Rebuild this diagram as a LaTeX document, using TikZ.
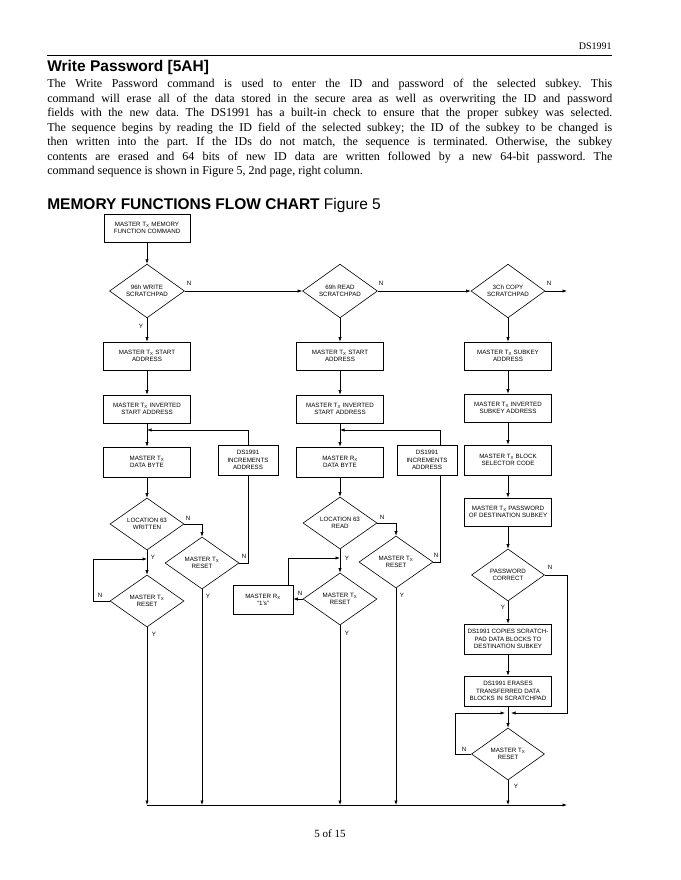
\documentclass[tikz,border=0pt]{standalone}
\usepackage{fontspec}
\setmainfont{Liberation Serif}
\newfontfamily\arial{Liberation Sans}
\usetikzlibrary{shapes.geometric,arrows.meta}
\frenchspacing
\newcommand\fcf{\arial\fontsize{6.2}{7.4}\selectfont}
\newcommand\tx{T\textsubscript{X}}
\newcommand\rx{R\textsubscript{X}}
\begin{document}
\begin{tikzpicture}[x=1pt,y=-1pt,line width=0.6pt,
  box/.style={draw, inner sep=0pt, minimum width=87pt, minimum height=28pt, align=center, font=\fcf},
  sbox/.style={box, minimum width=60pt, minimum height=30pt},
  dia/.style={draw, diamond, inner sep=0pt, minimum width=75pt, minimum height=52pt, align=center, font=\fcf},
  arr/.style={-{Latex[length=4.5pt,width=3.2pt]}},
  yn/.style={font=\arial\fontsize{6.2}{7}\selectfont, inner sep=0pt}]
\fill[white] (0,0) rectangle (680,880);
\useasboundingbox (0,0) rectangle (680,880);

% ---- page text ----
\node[anchor=base east, font=\fontsize{10}{12}\selectfont, inner sep=0pt] (hdr) at (612,50) {DS1991};
\coordinate (rl) at (47,55); \coordinate (rr) at (612,55);
\draw[line width=0.9pt] (rl) -- (rr);
\node[anchor=base west, font=\arial\bfseries\fontsize{15.5}{18}\selectfont, inner sep=0pt] (ttl) at (47,72) {Write Password [5AH]};
\node[anchor=north west, inner sep=0pt, text width=565pt, align=justify, font=\frenchspacing\fontsize{12}{14.5}\selectfont] (par) at (47,79)
{The Write Password command is used to enter the ID and password of the selected subkey. This\linebreak
command will erase all of the data stored in the secure area as well as overwriting the ID and password\linebreak
fields with the new data. The DS1991 has a built-in check to ensure that the proper subkey was selected.\linebreak
The sequence begins by reading the ID field of the selected subkey; the ID of the subkey to be changed is\linebreak
then written into the part. If the IDs do not match, the sequence is terminated. Otherwise, the subkey\linebreak
contents are erased and 64 bits of new ID data are written followed by a new 64-bit password. The\linebreak
command sequence is shown in Figure 5, 2nd page, right column.};
\node[anchor=base west, inner sep=0pt, font=\arial\fontsize{15.5}{18}\selectfont] (fig) at (47,209) {\bfseries MEMORY FUNCTIONS FLOW CHART \mdseries Figure 5};
\node[anchor=base, font=\fontsize{11}{13}\selectfont, inner sep=0pt] (pg) at (330,837) {5 of 15};

% ---- top row ----
\node[box, minimum width=86pt] (n0) at (147,228) {MASTER \tx{} MEMORY\\FUNCTION COMMAND};
\node[dia] (d1) at (147,291) {96h WRITE\\SCRATCHPAD};
\node[dia] (d2) at (340,291) {69h READ\\SCRATCHPAD};
\node[dia, minimum width=74pt] (d3) at (508,291) {3Ch COPY\\SCRATCHPAD};
\coordinate (e3) at (567,291);
\draw[arr] (n0) -- (d1);
\draw[arr] (d1.east) -- (d2.west);
\draw[arr] (d2.east) -- (d3.west);
\draw[arr] (d3.east) -- (e3);
\node[yn] (nd1) at (189,283) {N};
\node[yn] (nd2) at (381,283) {N};
\node[yn] (nd3) at (549,283) {N};
\node[yn] (yd1) at (141,326) {Y};

% ---- bottom collector ----
\coordinate (b1) at (147,805);
\coordinate (b2) at (202,805);
\coordinate (b3) at (340,805);
\coordinate (b4) at (396,805);
\coordinate (b5) at (508,805);
\coordinate (bR) at (567,805);
\draw[arr] (b1) -- (bR);

% ---- column 1 : write scratchpad ----
\node[box] (a1) at (147,356) {MASTER \tx{} START\\ADDRESS};
\node[box] (a2) at (147,409) {MASTER \tx{} INVERTED\\START ADDRESS};
\node[box, minimum height=30pt] (a3) at (147,462) {MASTER \tx\\DATA BYTE};
\node[sbox] (i1) at (248,460) {DS1991\\INCREMENTS\\ADDRESS};
\coordinate (j1) at (147,430);
\draw[arr] (d1) -- (a1);
\draw[arr] (a1) -- (a2);
\draw[arr] (a2) -- (a3);
\draw[arr] (i1.north) |- (j1);
\node[dia, minimum width=74pt] (l1) at (147,524) {LOCATION 63\\WRITTEN};
\node[dia, minimum width=74pt] (r1) at (202,563) {MASTER \tx\\RESET};
\node[dia, minimum width=74pt] (r0) at (147,601) {MASTER \tx\\RESET};
\draw[arr] (a3) -- (l1);
\draw[arr] (l1.east) -| (r1.north);
\draw (r1.east) -| (i1.south);
\draw[arr] (l1) -- (r0);
\coordinate (k1) at (93,559);
\coordinate (k1b) at (147,559);
\draw[arr] (r0.west) -| (k1) -- (k1b);
\draw[arr] (r0) -- (b1);
\draw[arr] (r1) -- (b2);
\node[yn] (nl1) at (188,518) {N};
\node[yn] (yl1) at (153,557) {Y};
\node[yn] (nr1) at (244,556) {N};
\node[yn] (yr1) at (208,596) {Y};
\node[yn] (nr0) at (100,595) {N};
\node[yn] (yr0) at (154,634) {Y};

% ---- column 2 : read scratchpad ----
\node[box] (c2a) at (340,356) {MASTER \tx{} START\\ADDRESS};
\node[box] (c2b) at (340,409) {MASTER \tx{} INVERTED\\START ADDRESS};
\node[box, minimum height=30pt] (c2c) at (340,462) {MASTER \rx\\DATA BYTE};
\node[sbox] (i2) at (427,460) {DS1991\\INCREMENTS\\ADDRESS};
\coordinate (x2) at (440,0);
\coordinate (j2) at (340,430);
\draw[arr] (d2) -- (c2a);
\draw[arr] (c2a) -- (c2b);
\draw[arr] (c2b) -- (c2c);
\draw[arr] (i2.north -| x2) |- (j2);
\node[dia, minimum width=74pt] (l2) at (340,523) {LOCATION 63\\READ};
\node[dia, minimum width=74pt] (r2) at (396,562) {MASTER \tx\\RESET};
\node[dia, minimum width=74pt] (m2) at (340,599) {MASTER \tx\\RESET};
\node[sbox, minimum height=29pt] (o2) at (263,600) {MASTER \rx\\“1’s”};
\draw[arr] (c2c) -- (l2);
\draw[arr] (l2.east) -| (r2.north);
\draw (r2.east) -| (i2.south -| x2);
\draw[arr] (l2) -- (m2);
\draw[arr] (m2.west) -- (m2.west -| o2.east);
\coordinate (x3) at (288,0);
\coordinate (k2) at (340,558);
\draw[arr] (o2.north -| x3) |- (k2);
\draw[arr] (m2) -- (b3);
\draw[arr] (r2) -- (b4);
\node[yn] (nl2) at (382,517) {N};
\node[yn] (yl2) at (347,558) {Y};
\node[yn] (nr2) at (436,555) {N};
\node[yn] (yr2) at (402,595) {Y};
\node[yn] (nm2) at (300,593) {N};
\node[yn] (ym2) at (347,633) {Y};

% ---- column 3 : copy scratchpad ----
\node[box] (c1) at (508,356) {MASTER \tx{} SUBKEY\\ADDRESS};
\node[box] (c2) at (508,408) {MASTER \tx{} INVERTED\\SUBKEY ADDRESS};
\node[box, minimum height=30pt] (c3) at (508,460) {MASTER \tx{} BLOCK\\SELECTOR CODE};
\node[box] (c4) at (508,512) {MASTER \tx{} PASSWORD\\OF DESTINATION SUBKEY};
\node[dia, minimum width=73pt] (p) at (508,575) {PASSWORD\\CORRECT};
\node[box, minimum height=30pt] (c5) at (508,639) {DS1991 COPIES SCRATCH-\\PAD DATA BLOCKS TO\\DESTINATION SUBKEY};
\node[box, minimum height=30pt] (c6) at (508,691) {DS1991 ERASES\\TRANSFERRED DATA\\BLOCKS IN SCRATCHPAD};
\node[dia, minimum width=73pt] (r3) at (508,754) {MASTER \tx\\RESET};
\draw[arr] (d3) -- (c1);
\draw[arr] (c1) -- (c2);
\draw[arr] (c2) -- (c3);
\draw[arr] (c3) -- (c4);
\draw[arr] (c4) -- (p);
\draw[arr] (p) -- (c5);
\draw[arr] (c5) -- (c6);
\draw[arr] (c6) -- (r3);
\coordinate (k4) at (567,713);
\coordinate (j3r) at (511,713);
\coordinate (k3) at (455,713);
\coordinate (j3l) at (505,713);
\draw[arr] (p.east) -| (k4) -- (j3r);
\draw[arr] (r3.west) -| (k3) -- (j3l);
\draw[arr] (r3) -- (b5);
\node[yn] (np) at (550,567) {N};
\node[yn] (yp) at (503,607) {Y};
\node[yn] (nr3) at (464,749) {N};
\node[yn] (yr3) at (516,786) {Y};
\end{tikzpicture}
\end{document}
